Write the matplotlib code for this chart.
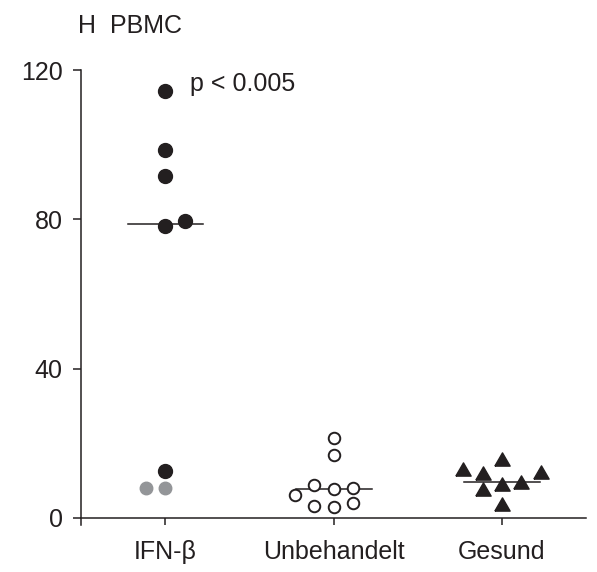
import matplotlib
matplotlib.use("Agg")
import matplotlib.pyplot as plt
import numpy as np

plt.rcParams['font.family'] = ['Liberation Sans', 'DejaVu Sans']

categories = ['IFN-β', 'Unbehandelt', 'Gesund']
yticks = [0, 40, 80, 120]

ifn_black_vals = [114.5, 98.6, 91.7, 78.2, 79.7, 12.6]
ifn_black_off = [0.0, 0.0, 0.0, 0.0, 0.115, 0.0]
ifn_gray_vals = [8.0, 8.0]
ifn_gray_off = [-0.115, 0.0]
unb_vals = [21.4, 16.9, 8.8, 7.8, 8.0, 6.0, 3.1, 2.8, 4.0]
unb_off = [0.0, 0.0, -0.115, 0.0, 0.113, -0.227, -0.115, 0.0, 0.113]
ges_vals = [15.8, 13.0, 11.9, 12.4, 9.7, 9.0, 7.6, 3.8]
ges_off = [0.0, -0.23, -0.115, 0.23, 0.113, 0.0, -0.115, 0.0]
medians = [78.8, 7.8, 9.5]

ink = '#231f20'
gray = '#939598'

fig = plt.figure(figsize=(5.97, 5.72), dpi=100)
ax = fig.add_axes([81.3/597, 1-525.3/572, (586-81.3)/597, (525.3-70.3)/572])

tri = [(-1, -0.866), (1, -0.866), (0, 0.866), (-1, -0.866)]

ax.plot(np.array(ifn_black_off) + 0, ifn_black_vals, 'o', ms=10, color=ink, mec=ink, ls='none', zorder=3)
ax.plot(np.array(ifn_gray_off) + 0, ifn_gray_vals, 'o', ms=9, color=gray, mec=gray, ls='none', zorder=3)
ax.plot(np.array(unb_off) + 1, unb_vals, 'o', ms=8.3, mfc='white', mec=ink, mew=1.4, ls='none', zorder=3)
ax.plot(np.array(ges_off) + 2, ges_vals, marker=tri, ms=11, color=ink, mec=ink, ls='none', zorder=3)

for i, m in enumerate(medians):
    ax.plot([i - 0.225, i + 0.225], [m, m], color=ink, lw=1.1, zorder=2)

ax.text(0.148, 114.5, 'p < 0.005', fontsize=18, color=ink, ha='left', va='baseline')
fig.text(78/597, 1-33.3/572, 'H  PBMC', fontsize=18, color=ink, ha='left', va='baseline')

ax.set_xlim(-0.5, 2.5)
ax.set_ylim(-2, 120)
ax.set_xticks(range(len(categories)))
ax.set_xticklabels(categories)
ax.set_yticks(yticks)
ax.spines['top'].set_visible(False)
ax.spines['right'].set_visible(False)
ax.spines['bottom'].set_position(('data', 0))
for s in ['left', 'bottom']:
    ax.spines[s].set_linewidth(1.1)
    ax.spines[s].set_color(ink)
ax.tick_params(axis='y', direction='out', length=5.8, width=1.1, pad=7.6, labelsize=18, colors=ink)
ax.tick_params(axis='x', direction='out', length=5.3, width=1.1, pad=10.5, labelsize=18, colors=ink)

fig.savefig('out.png', dpi=100)
